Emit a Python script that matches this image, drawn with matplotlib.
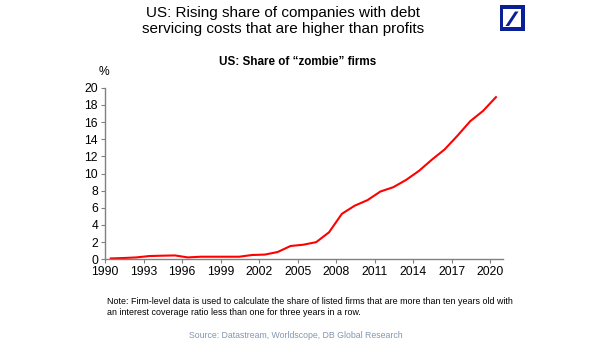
import matplotlib.pyplot as plt
from matplotlib.patches import Rectangle, Polygon

years = list(range(1990, 2021))
zombie_share = [0.1, 0.15, 0.22, 0.38, 0.42, 0.45, 0.22, 0.3, 0.3, 0.3,
                0.3, 0.5, 0.55, 0.85, 1.55, 1.7, 2.0, 3.15, 5.3, 6.25,
                6.9, 7.9, 8.4, 9.25, 10.3, 11.6, 12.8, 14.4, 16.1, 17.3,
                18.9]
x_ticks = list(range(1990, 2021, 3))
y_ticks = list(range(0, 21, 2))

plt.rcParams['font.family'] = ['Liberation Sans', 'DejaVu Sans']

fig = plt.figure(figsize=(6.05, 3.41), dpi=100)
ax = fig.add_axes([105 / 605, 1 - 259.3 / 341, 398 / 605, 171.6 / 341])

ax.plot([y + 0.45 for y in years], zombie_share, color='#ff0000', lw=1.5)

ax.set_xlim(1990, 2021)
ax.set_ylim(0, 20)
ax.set_xticks(x_ticks)
ax.set_yticks(y_ticks)
ax.tick_params(labelsize=8.7, length=3, color='#808080', pad=2)
for s in ['top', 'right']:
    ax.spines[s].set_visible(False)
for s in ['left', 'bottom']:
    ax.spines[s].set_color('#808080')
    ax.spines[s].set_linewidth(1)

fig.text(283 / 605, 1 - 21 / 341,
         'US: Rising share of companies with debt\nservicing costs that are higher than profits',
         ha='center', va='center', fontsize=11, linespacing=1.1)
fig.text(298 / 605, 1 - 62 / 341, 'US: Share of \u201czombie\u201d firms',
         ha='center', va='center', fontsize=8.4, fontweight='bold')
fig.text(104 / 605, 1 - 72 / 341, '%', ha='center', va='center', fontsize=8.7)
fig.text(107 / 605, 1 - 307 / 341,
         'Note: Firm-level data is used to calculate the share of listed firms that are more than ten years old with\n'
         'an interest coverage ratio less than one for three years in a row.',
         ha='left', va='center', fontsize=6.4, linespacing=1.35)
fig.text(296 / 605, 1 - 335 / 341, 'Source: Datastream, Worldscope, DB Global Research',
         ha='center', va='center', fontsize=6.3, color='#8496b0')

# Deutsche Bank logo
blue = '#0a1e96'
W, H = 605, 341
fig.patches.append(Rectangle((499.5 / W, 1 - 30.5 / H), 25 / W, 25 / H,
                             transform=fig.transFigure, facecolor=blue, edgecolor='none'))
fig.patches.append(Rectangle((502.8 / W, 1 - 27.2 / H), 18.4 / W, 18.4 / H,
                             transform=fig.transFigure, facecolor='white', edgecolor='none'))
slash = [(505.5, 26), (509, 26), (518.5, 11.5), (515, 11.5)]
fig.patches.append(Polygon([(x / W, 1 - y / H) for x, y in slash],
                           transform=fig.transFigure, facecolor=blue, edgecolor='none'))

fig.savefig('out.png', dpi=100)
